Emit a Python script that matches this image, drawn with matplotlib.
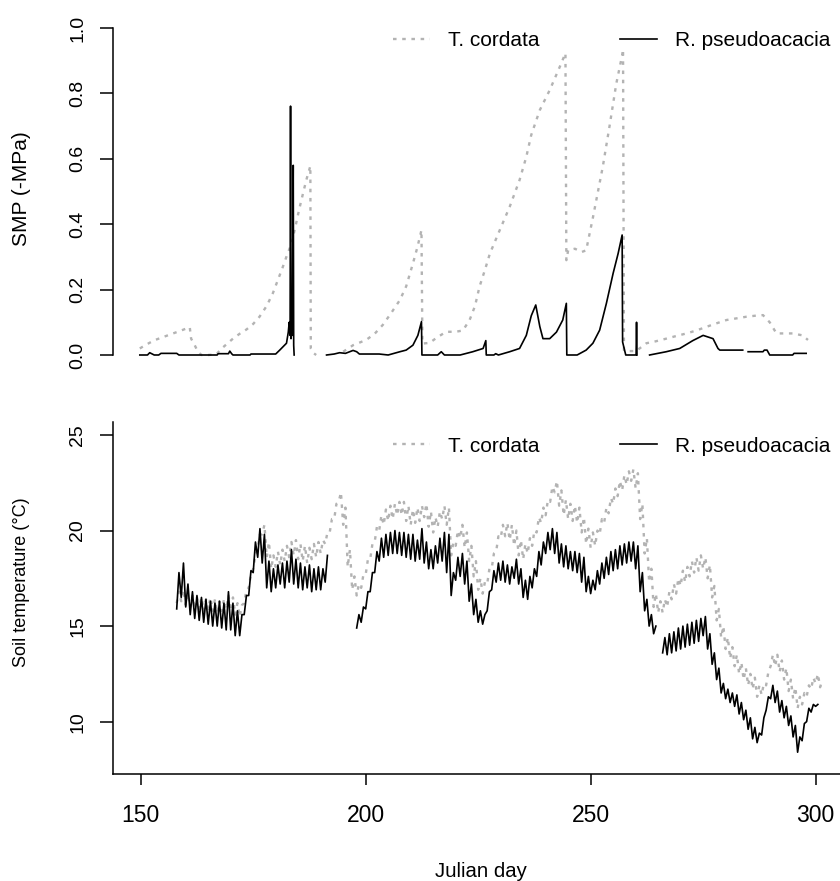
import numpy as np
import matplotlib
matplotlib.use("Agg")
import matplotlib.pyplot as plt
from matplotlib.lines import Line2D

plt.rcParams['font.family'] = ['Liberation Sans', 'DejaVu Sans']

nan = np.nan

# ---------------- Top panel: soil matric potential (-MPa) ----------------
tc_smp_day = [149.8, 151, 153, 155, 157, 159, 160.9, 161.2, 162, 162.7, 163.5, 165, 166.8,
              168, 170.5, 172, 173.5, 175, 176.4, 178, 179.4, 180.5, 181.6, 182.5, 183.5,
              184.5, 185.3, 186, 186.8, 187.7, 187.8, 188.5, 189, 192,
              195, 197.2, 200.1, 202, 203.8, 205.5, 207.6, 209, 210.5, 211.5, 212.4, 212.6,
              214.2, 216, 217.9, 220, 221.6, 223.1, 224.3, 225.3, 226.5, 227.6, 229.8, 232,
              234.2, 235.7, 236.8, 238.7, 240.9, 243.1, 244.4, 244.6, 245, 246.5, 248, 249,
              250.5, 252.7, 254.2, 255.7, 257.1, 257.2, 257.4, 258.5, 260.1, 262.4, 264.5,
              266.8, 269, 271.3, 273.5, 275.7, 278, 280.2, 282.4, 284.6, 286.5, 288.3, 289.8,
              291.3, 293, 294.9, 297.1, 298.3]
tc_smp = [0.02, 0.03, 0.045, 0.055, 0.065, 0.075, 0.085, 0.05, 0.03, 0.01, 0.0, 0.0, 0.002,
          0.02, 0.05, 0.065, 0.078, 0.095, 0.117, 0.15, 0.19, 0.23, 0.27, 0.305, 0.34,
          0.40, 0.45, 0.49, 0.535, 0.578, 0.02, 0.005, 0.0, nan,
          0.01, 0.03, 0.046, 0.065, 0.092, 0.125, 0.168, 0.21, 0.28, 0.33, 0.382, 0.035,
          0.037, 0.055, 0.071, 0.071, 0.075, 0.107, 0.15, 0.209, 0.26, 0.31, 0.382, 0.453,
          0.535, 0.606, 0.673, 0.749, 0.81, 0.88, 0.923, 0.29, 0.32, 0.325, 0.315, 0.32,
          0.42, 0.576, 0.70, 0.83, 0.923, 0.935, 0.015, 0.012, 0.012, 0.036, 0.042,
          0.05, 0.058, 0.066, 0.075, 0.086, 0.097, 0.107, 0.112, 0.117, 0.12, 0.122, 0.10,
          0.066, 0.066, 0.066, 0.06, 0.046]

rp_smp_day = [149.8, 151.5, 152, 153, 154, 154.5, 158, 158.5, 167, 167.2, 169.5, 169.8, 170.2,
              170.5, 174.3, 174.5, 180, 180.9, 182.4, 182.8, 183.0, 183.2, 183.3, 183.4, 183.6,
              183.7, 183.9, 184.0, 184.1, 186,
              191.3, 193, 194.2, 195.5, 197.2, 198, 198.6, 203, 205, 207.6, 209, 210.5, 211.6,
              212.4, 212.5, 216, 216.8, 217.5, 221, 223.8, 226.1, 226.7, 226.8, 228.5, 228.9,
              229.5, 232, 234.2, 235.7, 236.8, 237.8, 238.7, 239.4, 240.9, 242.4, 243.8, 244.6,
              244.7, 247, 249, 250.5, 252, 253.5, 255, 256.1, 257.0, 257.1, 257.8, 260.1, 260.2,
              260.3, 261,
              263.1, 266.8, 269.8, 272.7, 275, 277.2, 278.3, 278.7, 283.8, 284.4,
              285, 288.3, 288.6, 289.2, 289.8, 294.9, 295.2, 297.9]
rp_smp = [0.0, 0.0, 0.007, 0.0, 0.0, 0.005, 0.005, 0.0, 0.0, 0.004, 0.004, 0.012, 0.004,
          0.0, 0.0, 0.003, 0.003, 0.015, 0.036, 0.07, 0.10, 0.06, 0.761, 0.05, 0.14,
          0.06, 0.58, 0.03, 0.0, nan,
          0.0, 0.003, 0.007, 0.005, 0.014, 0.01, 0.003, 0.003, 0.0, 0.01, 0.015, 0.03, 0.06,
          0.102, 0.0, 0.0, 0.01, 0.0, 0.0, 0.01, 0.02, 0.044, 0.0, 0.0, 0.004,
          0.0, 0.01, 0.02, 0.06, 0.12, 0.153, 0.087, 0.05, 0.05, 0.07, 0.107, 0.158,
          0.0, 0.0, 0.015, 0.036, 0.076, 0.158, 0.25, 0.31, 0.367, 0.04, 0.0, 0.0, 0.10,
          0.0, nan,
          0.0, 0.01, 0.02, 0.044, 0.06, 0.05, 0.02, 0.015, 0.015, nan,
          0.01, 0.01, 0.015, 0.015, 0.0, 0.0, 0.005, 0.005]

# ---------------- Bottom panel: soil temperature (deg C), daily low / high ----------------
temp_days = list(range(158, 302))

tc_temp_lo = [16.2, 16.3, 16.1, 16.0, 15.9, 15.9, 15.8, 15.9, 15.8, 15.7, 15.8, 15.9, 15.8,
              15.6, 15.5, 16.2, 17.0, 18.0, 19.1, 19.8, 18.6, 18.0, 18.1, 18.2, 18.4, 18.6,
              18.7, 18.5, 18.4, 18.3, 18.5, 18.6, 18.8, 19.3, 19.9, 20.6, 21.5, 20.3, 18.1,
              16.9, 16.6, 17.0, 17.7, 18.5, 19.4, 20.0, 20.3, 20.5, 20.6, 20.8, 20.8, 20.5,
              20.3, 20.4, 20.5, 20.7, 20.2, 19.9, 20.2, 20.6, 20.3, 18.7, 19.2, 19.6, 19.1,
              18.4, 17.6, 16.9, 16.7, 17.2, 18.0, 18.9, 19.6, 19.7, 19.5, 19.2, 18.7, 18.5,
              18.8, 19.2, 19.9, 20.4, 20.8, 21.5, 22.0, 21.3, 20.8, 20.6, 20.5, 20.4, 19.9,
              19.3, 19.1, 19.2, 19.8, 20.4, 20.9, 21.4, 21.8, 22.1, 22.4, 22.6, 22.2, 20.6,
              18.8, 17.3, 16.0, 15.7, 15.7, 16.0, 16.4, 16.7, 17.1, 17.3, 17.6, 17.8, 17.9,
              18.0, 17.5, 16.5, 15.3, 14.4, 13.8, 13.3, 12.9, 12.5, 12.2, 11.9, 11.7, 11.3,
              11.4, 11.9, 12.9, 12.9, 12.6, 12.2, 11.6, 11.2, 10.7, 10.9, 11.3, 11.7, 12.0,
              11.8]
tc_temp_hi = [16.8, 16.9, 16.7, 16.6, 16.5, 16.5, 16.4, 16.5, 16.4, 16.3, 16.4, 16.6, 16.5,
              16.2, 16.1, 16.9, 17.7, 18.7, 19.8, 20.3, 19.4, 18.7, 18.9, 19.0, 19.2, 19.4,
              19.5, 19.3, 19.2, 19.1, 19.3, 19.4, 19.5, 19.9, 20.6, 21.4, 22.0, 21.2, 19.0,
              17.6, 17.2, 17.7, 18.5, 19.3, 20.2, 20.8, 21.1, 21.3, 21.4, 21.5, 21.5, 21.3,
              21.1, 21.2, 21.3, 21.4, 21.0, 20.7, 21.0, 21.3, 21.2, 19.4, 20.0, 20.3, 19.9,
              19.2, 18.4, 17.5, 17.3, 18.0, 18.8, 19.7, 20.3, 20.4, 20.3, 20.0, 19.5, 19.3,
              19.6, 20.0, 20.7, 21.2, 21.6, 22.3, 22.6, 22.1, 21.6, 21.4, 21.3, 21.2, 20.7,
              20.1, 19.9, 20.0, 20.6, 21.2, 21.7, 22.2, 22.6, 22.9, 23.1, 23.2, 23.0, 21.4,
              19.6, 18.0, 16.7, 16.3, 16.4, 16.8, 17.2, 17.5, 17.9, 18.1, 18.4, 18.6, 18.7,
              18.6, 18.2, 17.1, 15.9, 15.0, 14.4, 13.9, 13.5, 13.1, 12.8, 12.5, 12.3, 11.9,
              12.0, 12.6, 13.5, 13.5, 13.2, 12.8, 12.2, 11.8, 11.3, 11.5, 11.9, 12.3, 12.5,
              12.2]

rp_temp_lo = [15.9, 16.5, 16.0, 15.6, 15.4, 15.3, 15.2, 15.1, 15.0, 15.0, 14.9, 14.8, 14.8,
              14.5, 14.5, 15.6, 16.6, 17.8, 18.6, 18.3, 17.0, 16.8, 17.0, 17.2, 17.0, 17.3,
              17.2, 17.0, 16.9, 17.0, 16.8, 16.9, 16.9, 17.3,
              nan, nan, nan, nan, nan, nan,
              14.9, 15.2, 15.9, 16.8, 17.8, 18.4, 18.6, 18.7, 18.8, 18.8, 18.7, 18.6, 18.5,
              18.4, 18.5, 18.3, 18.0, 18.0, 18.3, 18.4, 17.8, 16.6, 17.4, 17.6, 17.2, 16.3,
              15.6, 15.2, 15.1, 15.8, 16.9, 17.3, 17.4, 17.3, 17.2, 17.5, 17.2, 16.5, 16.4,
              17.0, 17.6, 18.2, 18.8, 19.0, 18.8, 18.3, 18.1, 18.0, 17.9, 17.8, 17.3, 16.8,
              16.7, 16.9, 17.2, 17.5, 17.7, 17.9, 18.0, 18.2, 18.3, 18.4, 18.0, 16.8, 15.8,
              15.0, 14.6,
              nan,
              13.6, 13.5, 13.6, 13.7, 13.8, 13.9, 14.0, 14.1, 14.2, 14.5, 13.8, 13.0, 12.2,
              11.5, 11.2, 11.0, 10.8, 10.4, 10.1, 9.6, 9.1, 8.9, 9.3, 10.6, 11.2, 11.0, 10.5,
              10.2, 9.8, 9.2, 8.4, 9.0, 10.0, 10.5, 10.8,
              nan]
rp_temp_hi = [17.8, 18.3, 17.2, 16.8, 16.6, 16.5, 16.4, 16.3, 16.2, 16.3, 16.2, 16.8, 16.2,
              15.8, 15.6, 16.6, 17.9, 19.4, 20.1, 19.8, 18.4, 18.0, 18.2, 18.3, 18.4, 19.0,
              18.5, 18.3, 18.1, 18.2, 18.0, 18.1, 18.0, 18.7,
              nan, nan, nan, nan, nan, nan,
              15.6, 16.0, 16.8, 17.8, 18.9, 19.6, 19.8, 19.9, 20.0, 19.9, 19.9, 19.8, 19.8,
              19.5, 20.1, 19.4, 19.0, 19.2, 19.6, 19.9, 19.8, 17.8, 18.6, 18.8, 18.4, 17.2,
              16.4, 15.8, 15.6, 16.8, 17.9, 18.3, 18.4, 18.2, 18.1, 18.5, 18.0, 17.4, 17.6,
              18.0, 18.9, 19.4, 19.9, 20.1, 19.9, 19.3, 19.2, 18.9, 18.9, 18.8, 18.6, 17.6,
              17.4, 17.9, 18.3, 18.6, 18.9, 19.0, 19.2, 19.3, 19.4, 19.4, 19.2, 17.8, 16.4,
              15.6, 15.0,
              nan,
              14.4, 14.6, 14.7, 14.9, 15.0, 15.1, 15.2, 15.3, 15.4, 15.5, 14.6, 13.6, 12.8,
              12.0, 11.7, 11.5, 11.4, 11.0, 10.6, 10.2, 9.7, 9.4, 10.2, 11.3, 11.9, 11.6, 11.1,
              10.8, 10.3, 9.8, 9.2, 9.9, 10.7, 10.9, 10.9,
              nan]

series_labels = ["T. cordata", "R. pseudoacacia"]
x_ticks = [150, 200, 250, 300]
smp_ticks = [0.0, 0.2, 0.4, 0.6, 0.8, 1.0]
temp_ticks = [10, 15, 20, 25]


def interleave(days, lo, hi):
    xs, ys = [], []
    for d, a, b in zip(days, lo, hi):
        xs += [d, d + 0.5]
        ys += [a, b]
    return xs, ys


GRAY = '#b3b3b3'
DOT = (0, (1.5, 2.4))
W, H = 840, 881

fig = plt.figure(figsize=(W / 100, H / 100), dpi=100)
ax1 = fig.add_axes([113 / W, (H - 355) / H, 727 / W, 327 / H])
ax2 = fig.add_axes([113 / W, (H - 774) / H, 727 / W, 352 / H])

xlim = (143.84, 305.42)

# top panel
ax1.plot(tc_smp_day, tc_smp, color=GRAY, lw=1.7, linestyle=DOT, clip_on=False)
ax1.plot(rp_smp_day, rp_smp, color='black', lw=1.2, clip_on=False)
ax1.set_xlim(*xlim)
ax1.set_ylim(0, 1)
for s in ['top', 'right', 'bottom']:
    ax1.spines[s].set_visible(False)
ax1.spines['left'].set_linewidth(1.1)
ax1.set_xticks([])
ax1.set_yticks(smp_ticks)
ax1.set_yticklabels([f"{v:.1f}" for v in smp_ticks], rotation=90, va='center')
ax1.tick_params(axis='y', length=9.4, width=1.1, pad=10, labelsize=14, direction='out')

# bottom panel
x_tc, y_tc = interleave(temp_days, tc_temp_lo, tc_temp_hi)
x_rp, y_rp = interleave(temp_days, rp_temp_lo, rp_temp_hi)
ax2.plot(x_tc, y_tc, color=GRAY, lw=1.7, linestyle=DOT)
ax2.plot(x_rp, y_rp, color='black', lw=1.2)
ax2.set_xlim(*xlim)
ax2.set_ylim(7.26, 25.68)
for s in ['top', 'right']:
    ax2.spines[s].set_visible(False)
ax2.spines['left'].set_linewidth(1.1)
ax2.spines['bottom'].set_linewidth(1.1)
ax2.set_xticks(x_ticks)
ax2.set_xticklabels([str(v) for v in x_ticks])
ax2.set_yticks(temp_ticks)
ax2.set_yticklabels([str(v) for v in temp_ticks], rotation=90, va='center')
ax2.tick_params(axis='y', length=9.4, width=1.1, pad=10, labelsize=14, direction='out')
ax2.tick_params(axis='x', length=8, width=1.1, pad=13.5, labelsize=16.5, direction='out')

for ax, yc in [(ax1, 41), (ax2, 446)]:
    handles = [Line2D([], [], color=GRAY, lw=1.7, linestyle=DOT),
               Line2D([], [], color='black', lw=1.2)]
    ax.legend(handles, series_labels, loc='center left',
              bbox_to_anchor=(393 / W, 1 - yc / H), bbox_transform=fig.transFigure,
              ncol=2, frameon=False, fontsize=15, handlelength=1.78,
              handletextpad=0.86, columnspacing=3.85, borderpad=0, borderaxespad=0)

fig.text(22 / W, 1 - 189 / H, "SMP (-MPa)", rotation=90, ha='center', va='center', fontsize=15)
fig.text(22 / W, 1 - 582.5 / H, "Soil temperature (°C)", rotation=90, ha='center', va='center',
         fontsize=13)
fig.text(481 / W, 1 - 877 / H, "Julian day", ha='center', va='baseline', fontsize=14.7)

fig.savefig("out.png", dpi=100)
